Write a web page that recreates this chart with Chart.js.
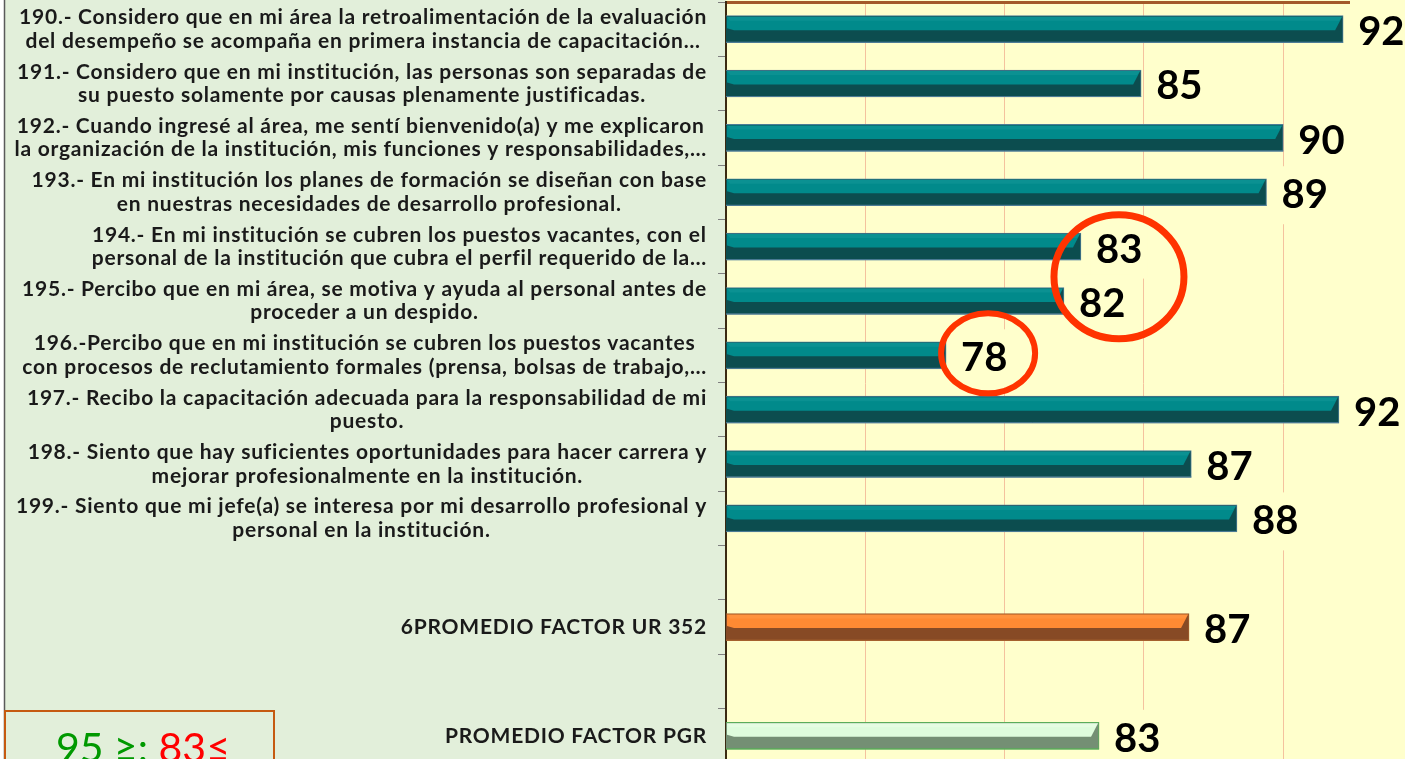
<!DOCTYPE html>
<html>
<head>
<meta charset="utf-8">
<script src="https://cdn.jsdelivr.net/npm/chart.js@4.4.1/dist/chart.umd.min.js"></script>
<style>
  html, body { margin: 0; padding: 0; overflow: hidden; background: #ffffcc; }
  canvas { display: block; }
</style>
</head>
<body>
<canvas id="chart" width="1405" height="766"></canvas>
<script>
// ---------------- DATA ----------------
const questionLabels = [
  ["190.- Considero que en mi área la retroalimentación de la evaluación", "del desempeño se acompaña en primera instancia de capacitación…"],
  ["191.- Considero que en mi institución, las personas son separadas de", "su puesto solamente por causas plenamente justificadas."],
  ["192.- Cuando ingresé al área, me sentí bienvenido(a) y me explicaron", "la organización de la institución, mis funciones y responsabilidades,…"],
  ["193.- En mi institución los planes de formación se diseñan con base", "en nuestras necesidades de desarrollo profesional."],
  ["194.- En mi institución se cubren los puestos vacantes, con el", "personal de la institución que cubra el perfil requerido de la…"],
  ["195.- Percibo que en mi área, se motiva y ayuda al personal antes de", "proceder a un despido."],
  ["196.-Percibo que en mi institución se cubren los puestos vacantes", "con procesos de reclutamiento formales (prensa, bolsas de trabajo,…"],
  ["197.- Recibo la capacitación adecuada para la responsabilidad de mi", "puesto."],
  ["198.- Siento que hay suficientes oportunidades para hacer carrera y", "mejorar profesionalmente en la institución."],
  ["199.- Siento que mi jefe(a) se interesa por mi desarrollo profesional y", "personal en la institución."]
];
const questionScores = [92.15, 84.9, 90.0, 89.4, 82.74, 82.13, 77.9, 92.0, 86.7, 88.34];

const urLabel = "6PROMEDIO FACTOR UR 352";
const urScore = 86.62;
const pgrLabel = "PROMEDIO FACTOR PGR";
const pgrScore = 83.39;

const xTickValues = [70, 75, 80, 85, 90];
const xMin = 70;
const xMax = 92.36;

const legendHigh = "95 ≥: ";
const legendLow = "83≤";

// rows of the category axis (blank rows separate the averages)
const categories = [...questionLabels, "", urLabel, "", pgrLabel];
const values = [...questionScores, null, urScore, null, pgrScore];
const kinds = [...questionScores.map(() => "team"), null, "ur", null, "pgr"];

// ---------------- STYLE ----------------
const palette = {
  team:   { light: "#018a8b", dark: "#0c4d4f", border: "#4d7c96", hi: "#23a3a3" },
  ur:     { light: "#ff8a33", dark: "#874a25", border: "#a5622e", hi: "#ffa65a" },
  pgr:    { light: "#defcdc", dark: "#748f74", border: "#5aad5a", hi: "#f4fff2" }
};
const PLOT_BG = "#ffffcc";
const PANEL_BG = "#e2efda";
const LABEL_FONT = 'Lato, "Open Sans", sans-serif';
const VALUE_FONT = 'Lato, "Open Sans", sans-serif';

const bgPlugin = {
  id: "bg",
  beforeDraw(chart) {
    const { ctx, chartArea } = chart;
    ctx.save();
    ctx.fillStyle = PLOT_BG;
    ctx.fillRect(0, 0, chart.width, chart.height);
    ctx.fillStyle = PANEL_BG;
    ctx.fillRect(4, 0, chartArea.left - 4, chart.height);
    ctx.fillStyle = "#ffffff";
    ctx.fillRect(0, 0, 4, chart.height);
    ctx.strokeStyle = "#5a5a5a";
    ctx.lineWidth = 1.5;
    ctx.beginPath();
    ctx.moveTo(4.5, 0);
    ctx.lineTo(4.5, chart.height);
    ctx.stroke();
    ctx.restore();
  }
};

const bevelPlugin = {
  id: "bevel",
  afterDatasetsDraw(chart) {
    const { ctx, chartArea } = chart;
    const meta = chart.getDatasetMeta(0);
    ctx.save();
    meta.data.forEach((el, i) => {
      if (values[i] == null) return;
      const p = palette[kinds[i]];
      const { x, y, base: rawBase, height } = el.getProps(["x", "y", "base", "height"], true);
      const base = Math.max(rawBase, chartArea.left);
      const top = y - height / 2 + 1;
      const bot = y + height / 2 - 1;
      const mid = y + 1;
      const b = 8;
      // top facet
      ctx.fillStyle = p.light;
      ctx.beginPath();
      ctx.moveTo(base + 1, top);
      ctx.lineTo(x - 1, top);
      ctx.lineTo(x - b, mid);
      ctx.lineTo(base + b, mid);
      ctx.lineTo(base + 1, mid - 2);
      ctx.closePath();
      ctx.fill();
      // highlight strip
      ctx.fillStyle = p.hi;
      ctx.globalAlpha = 0.3;
      ctx.beginPath();
      ctx.moveTo(base + 1, top);
      ctx.lineTo(x - 1, top);
      ctx.lineTo(x - 4, top + 4);
      ctx.lineTo(base + 4, top + 4);
      ctx.closePath();
      ctx.fill();
      ctx.globalAlpha = 1;
      // bottom shadow line
      ctx.strokeStyle = p.border;
      ctx.lineWidth = 1;
      ctx.beginPath();
      ctx.moveTo(base, bot + 0.5);
      ctx.lineTo(x, bot + 0.5);
      ctx.stroke();
    });
    ctx.restore();
  }
};

const labelPlugin = {
  id: "valueLabels",
  afterDatasetsDraw(chart) {
    const { ctx } = chart;
    const meta = chart.getDatasetMeta(0);
    ctx.save();
    ctx.font = "bold 40px " + VALUE_FONT;
    ctx.textBaseline = "middle";
    ctx.textAlign = "left";
    meta.data.forEach((el, i) => {
      if (values[i] == null) return;
      const txt = String(Math.round(values[i]));
      const { x, y } = el.getProps(["x", "y"], true);
      const tx = x + 15;
      const ty = y + 3;
      const w = ctx.measureText(txt).width;
      ctx.fillStyle = PLOT_BG;
      ctx.fillRect(tx - 5, ty - 29, w + 10, 58);
      ctx.fillStyle = "#000000";
      ctx.fillText(txt, tx, ty);
    });
    // highlight circles around the lowest items
    const e194 = meta.data[4].getProps(["x", "y"], true);
    const e195 = meta.data[5].getProps(["x", "y"], true);
    const e196 = meta.data[6].getProps(["x", "y"], true);
    ctx.strokeStyle = "#ff3300";
    ctx.lineWidth = 7;
    ctx.beginPath();
    ctx.ellipse(e194.x + 38, (e194.y + e195.y) / 2 + 3, 65, 62, 0, 0, Math.PI * 2);
    ctx.stroke();
    ctx.lineWidth = 6;
    ctx.beginPath();
    ctx.ellipse(e196.x + 42, e196.y - 2, 47, 40, 0, 0, Math.PI * 2);
    ctx.stroke();
    ctx.restore();
  }
};

const categoryLabelPlugin = {
  id: "catLabels",
  afterDraw(chart) {
    const { ctx } = chart;
    const yScale = chart.scales.y;
    ctx.save();
    const fs = 21;
    ctx.font = 'bold ' + fs + 'px ' + LABEL_FONT;
    // fit letter spacing so that the first line spans its measured width
    const refLine = questionLabels[0][0];
    const natural = ctx.measureText(refLine).width;
    const ls = Math.max(0, (687 - natural) / (refLine.length - 1));
    ctx.letterSpacing = ls.toFixed(2) + "px";
    ctx.fillStyle = "#1a1a1a";
    ctx.textBaseline = "middle";
    ctx.textAlign = "center";
    const right = chart.chartArea.left - 19;
    const lh = 23.5;
    categories.forEach((lab, i) => {
      if (!lab) return;
      const lines = Array.isArray(lab) ? lab : [lab];
      const maxW = Math.max(...lines.map(l => ctx.measureText(l).width));
      const cx = right - maxW / 2;
      const cy = yScale.getPixelForValue(i);
      const y0 = cy - (lines.length - 1) * lh / 2;
      lines.forEach((l, k) => ctx.fillText(l, cx, y0 + k * lh));
    });
    ctx.letterSpacing = "0px";

    // threshold box at the bottom-left
    ctx.strokeStyle = "#c55a11";
    ctx.lineWidth = 2;
    ctx.fillStyle = PANEL_BG;
    ctx.fillRect(5, 711, 269, 80);
    ctx.strokeRect(5, 711, 269, 80);
    ctx.font = '41px ' + VALUE_FONT;
    ctx.textAlign = "left";
    ctx.textBaseline = "alphabetic";
    ctx.fillStyle = "#009900";
    ctx.fillText(legendHigh, 56, 762);
    const w1 = ctx.measureText(legendHigh).width;
    ctx.fillStyle = "#ff0000";
    ctx.fillText(legendLow, 56 + w1, 762);
    ctx.restore();
  }
};

new Chart(document.getElementById("chart"), {
  type: "bar",
  data: {
    labels: categories.map((c, i) => String(i)),
    datasets: [{
      data: values,
      backgroundColor: kinds.map(k => k ? palette[k].dark : "transparent"),
      borderColor: kinds.map(k => k ? palette[k].border : "transparent"),
      borderWidth: 1,
      borderSkipped: false,
      barThickness: 27
    }]
  },
  options: {
    indexAxis: "y",
    responsive: false,
    animation: false,
    events: [],
    layout: { padding: { top: 0, right: 56, bottom: 3, left: 0 } },
    plugins: { legend: { display: false }, tooltip: { enabled: false } },
    scales: {
      x: {
        position: "top",
        min: xMin,
        max: xMax,
        afterBuildTicks(scale) {
          scale.ticks = xTickValues.map(v => ({ value: v }));
        },
        afterFit(scale) { scale.height = 2; },
        ticks: { display: false },
        grid: { color: "#f4c29e", lineWidth: 1, drawTicks: false },
        border: { display: true, color: "#a35a2a", width: 3 }
      },
      y: {
        type: "category",
        offset: true,
        afterFit(scale) { scale.width = 726; },
        ticks: { display: false },
        grid: { offset: true, drawOnChartArea: false, drawTicks: true, tickLength: 8, color: "#7f7f7f" },
        border: { display: true, color: "#3a2a12", width: 2 }
      }
    }
  },
  plugins: [bgPlugin, bevelPlugin, labelPlugin, categoryLabelPlugin]
});
</script>
</body>
</html>
